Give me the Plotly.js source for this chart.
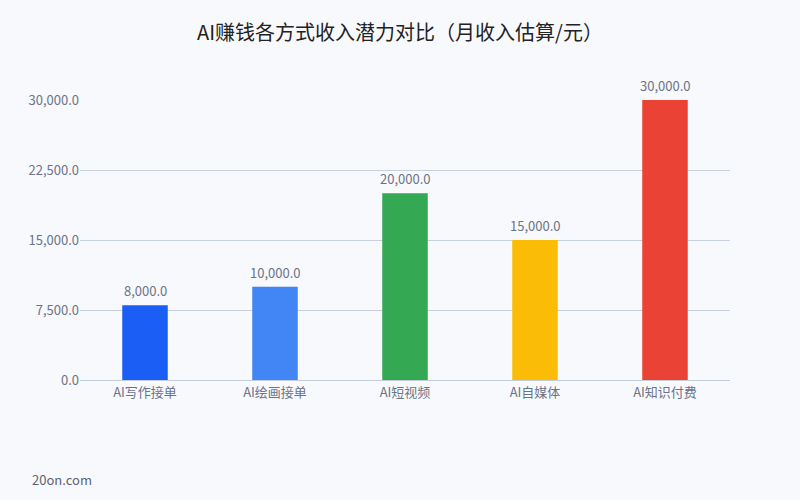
<!DOCTYPE html>
<html>
<head>
<meta charset="utf-8">
<script src="https://cdn.plot.ly/plotly-3.0.1.min.js"></script>
<style>html,body{margin:0;padding:0;background:#f8f9fc;}#chart{width:800px;height:500px;}</style>
</head>
<body>
<div id="chart"></div>
<script>
const categories = ["AI写作接单", "AI绘画接单", "AI短视频", "AI自媒体", "AI知识付费"];
const incomes = [8000, 10000, 20000, 15000, 30000];
const barColors = ["#1a5ef5", "#4285f4", "#34a853", "#fbbc05", "#ea4335"];
const tickValues = [0, 7500, 15000, 22500, 30000];

const fontFam = '"Noto Sans CJK SC", "Noto Sans", sans-serif';
const fmt = v => v.toLocaleString('en-US', {minimumFractionDigits: 1, maximumFractionDigits: 1});

const trace = {
  type: 'bar',
  x: categories,
  y: incomes,
  marker: {color: barColors},
  width: 0.35,
  hoverinfo: 'none'
};

const valueLabels = categories.map((c, i) => ({
  x: c, y: incomes[i], xref: 'x', yref: 'y',
  text: fmt(incomes[i]), showarrow: false,
  xanchor: 'center', yanchor: 'bottom', yshift: 3,
  font: {family: fontFam, size: 13, color: '#6b7389'}
}));

const layout = {
  width: 800, height: 500,
  paper_bgcolor: '#f8f9fc',
  plot_bgcolor: '#f8f9fc',
  margin: {l: 80, r: 70, t: 100, b: 120},
  title: {text: 'AI赚钱各方式收入潜力对比（月收入估算/元）', x: 0.5, xanchor: 'center', y: 0.935, yanchor: 'middle',
          font: {family: fontFam, size: 20, color: '#222'}},
  showlegend: false,
  bargap: 0.65,
  xaxis: {
    type: 'category',
    tickfont: {family: fontFam, size: 13, color: '#6b7389'},
    showgrid: false, zeroline: false,
    showline: true, linecolor: '#c5cddc', linewidth: 1,
    ticks: '', ticklen: 0
  },
  yaxis: {
    range: [0, 30000],
    tickvals: tickValues,
    ticktext: tickValues.map(fmt),
    tickfont: {family: fontFam, size: 13, color: '#6b7389'},
    gridcolor: '#c9d1e0', gridwidth: 1,
    zeroline: false, showline: false,
    ticks: '', ticklabelstandoff: 0
  },
  annotations: valueLabels.concat([{
    text: '20on.com', xref: 'paper', yref: 'paper', x: -0.077, y: -0.355,
    xanchor: 'left', yanchor: 'middle', showarrow: false,
    font: {family: fontFam, size: 13, color: '#5a6378'}
  }])
};
Plotly.newPlot('chart', [trace], layout, {displayModeBar: false, staticPlot: true});
</script>
</body>
</html>
